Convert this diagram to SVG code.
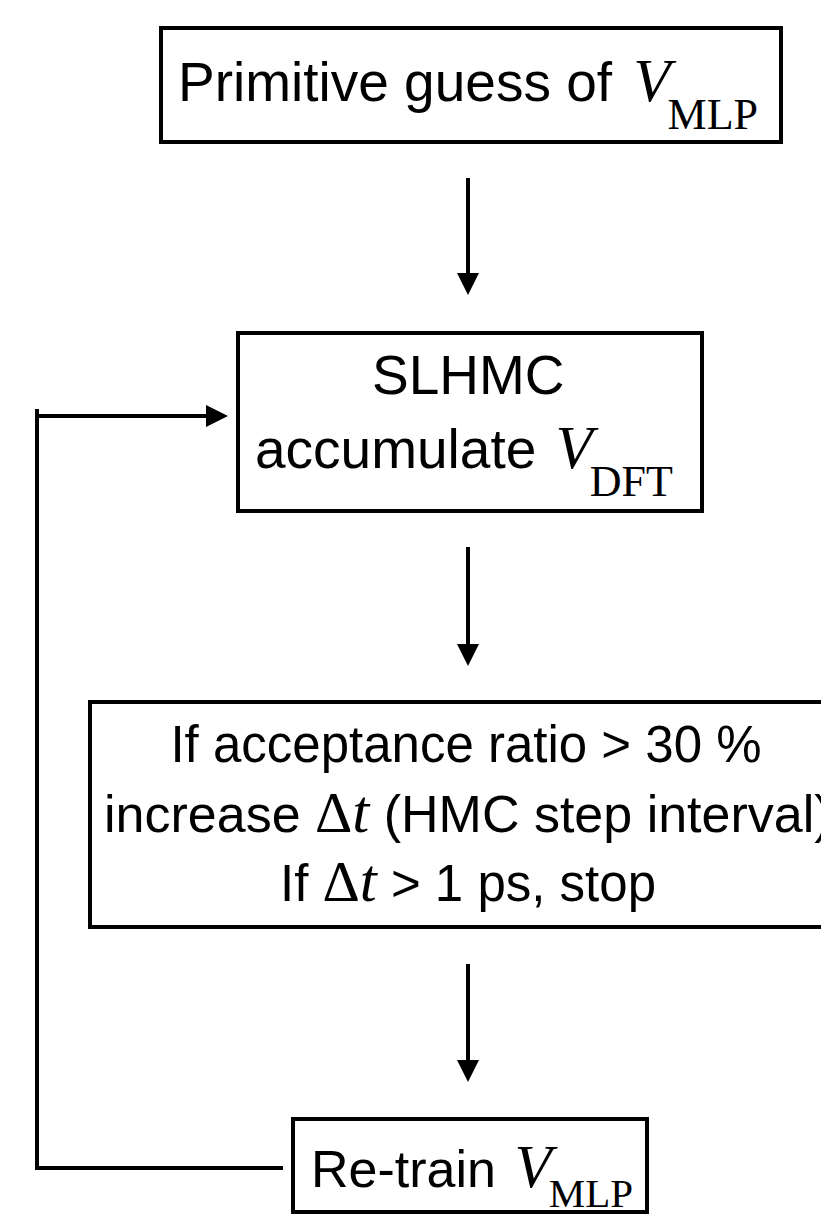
<svg xmlns="http://www.w3.org/2000/svg" width="821" height="1216" viewBox="0 0 821 1216">
  <style>
    .box { fill: #fff; stroke: #000; stroke-width: 4; }
    .wire { fill: none; stroke: #000; stroke-width: 4; }
    .sans { font-family: "Liberation Sans", Arial, sans-serif; fill: #000; }
    .lg { font-size: 55px; }
    .md { font-size: 51px; }
    .sm { font-size: 52px; }
    .var { font-family: "Liberation Serif", "Times New Roman", serif; font-style: italic; font-size: 61px; }
    .sym { font-family: "Liberation Serif", "Times New Roman", serif; font-size: 58px; }
    .sub { font-family: "Liberation Serif", "Times New Roman", serif; font-size: 44px; }
    .sub-sm { font-family: "Liberation Serif", "Times New Roman", serif; font-size: 41px; }
  </style>
  <defs>
    <marker id="head" viewBox="0 0 22 22" refX="0" refY="11" markerWidth="22" markerHeight="22" markerUnits="userSpaceOnUse" orient="auto">
      <path d="M0,0 L22,11 L0,22 z" fill="#000"/>
    </marker>
  </defs>

  <g id="connectors">
    <line class="wire" x1="468" y1="178" x2="468" y2="273" marker-end="url(#head)"/>
    <line class="wire" x1="468" y1="547" x2="468" y2="644" marker-end="url(#head)"/>
    <line class="wire" x1="468" y1="964" x2="468" y2="1060" marker-end="url(#head)"/>
    <!-- loop back from re-training to SLHMC -->
    <path class="wire" d="M283,1168 H37 V409" stroke-linejoin="miter"/>
    <line class="wire" x1="37" y1="416" x2="206" y2="416" marker-end="url(#head)"/>
  </g>

  <g id="node-guess">
    <rect class="box" x="161" y="28" width="620" height="114"/>
    <text class="sans lg" x="178" y="101">Primitive guess of <tspan class="var" dx="6">V</tspan><tspan class="sub" dx="-3" dy="28">MLP</tspan></text>
  </g>

  <g id="node-slhmc">
    <rect class="box" x="238" y="333" width="464" height="178"/>
    <text class="sans lg" x="372" y="394">SLHMC</text>
    <text class="sans lg" x="255" y="468">accumulate <tspan class="var" dx="4">V</tspan><tspan class="sub" dx="-3" dy="28">DFT</tspan></text>
  </g>

  <g id="node-step">
    <rect class="box" x="90" y="702" width="756" height="225"/>
    <text class="sans md" x="466" y="762" text-anchor="middle">If acceptance ratio &gt; 30 %</text>
    <text class="sans sm" x="104" y="832">increase <tspan class="sym">Δ</tspan><tspan class="var" font-size="58">t</tspan> (HMC step interval)</text>
    <text class="sans md" x="468" y="901" text-anchor="middle">If <tspan class="sym">Δ</tspan><tspan class="var" font-size="58">t</tspan> &gt; 1 ps, stop</text>
  </g>

  <g id="node-retrain">
    <rect class="box" x="293" y="1119" width="354" height="93"/>
    <text class="sans sm" x="311" y="1187">Re-train <tspan class="var" dx="4" font-size="58">V</tspan><tspan class="sub-sm" dx="-3" dy="20">MLP</tspan></text>
  </g>
</svg>
